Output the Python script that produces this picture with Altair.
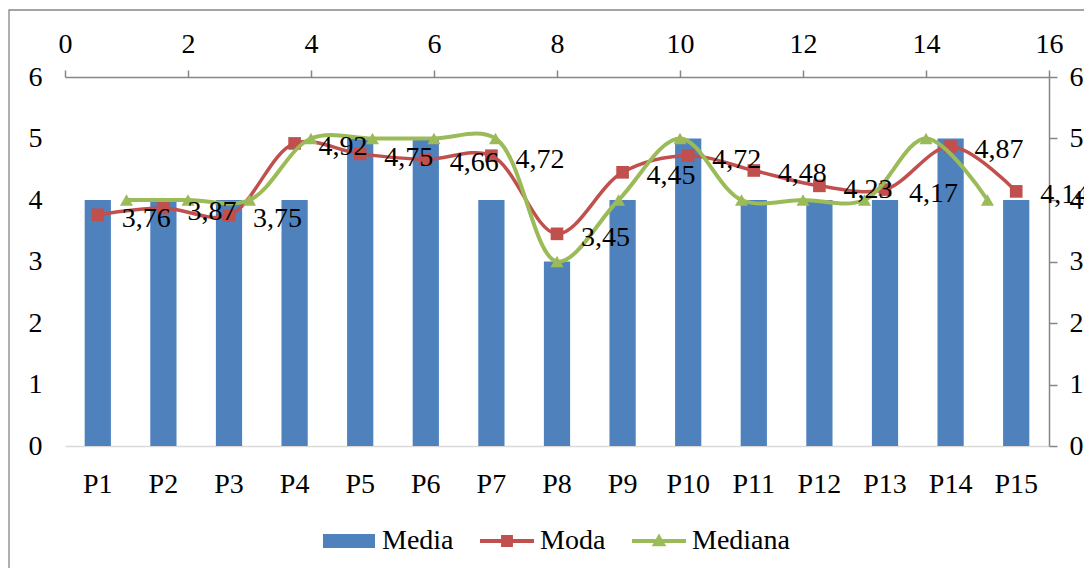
import altair as alt
import pandas as pd

# ---------------- data ----------------
categories = ["P1", "P2", "P3", "P4", "P5", "P6", "P7", "P8", "P9", "P10",
              "P11", "P12", "P13", "P14", "P15"]
media = [4, 4, 4, 4, 5, 5, 4, 3, 4, 5, 4, 4, 4, 5, 4]
moda = [3.76, 3.87, 3.75, 4.92, 4.75, 4.66, 4.72, 3.45, 4.45, 4.72,
        4.48, 4.23, 4.17, 4.87, 4.14]
mediana_x = [1, 2, 3, 4, 5, 6, 7, 8, 9, 10, 11, 12, 13, 14, 15]
mediana = [4, 4, 4, 5, 5, 5, 5, 3, 4, 5, 4, 4, 4, 5, 4]
series_names = ["Media", "Moda", "Mediana"]
series_colors = ["#4F81BD", "#C0504D", "#9BBB59"]
y_ticks = [0, 1, 2, 3, 4, 5, 6]
top_ticks = [0, 2, 4, 6, 8, 10, 12, 14, 16]

FONT = "Liberation Serif"
FS = 28
GRAY = "#868686"
BLUE, RED, GREEN = series_colors

prim = pd.DataFrame({
    "cat": categories,
    "media": media,
    "moda": moda,
    "label": [f"{v:.2f}".replace(".", ",") for v in moda],
})
sec = pd.DataFrame({"mx": mediana_x, "med": mediana})
leg = pd.DataFrame({"s": series_names})
frame = pd.DataFrame({"k": [0]})

band_scale = alt.Scale(domain=categories, paddingInner=0.6, paddingOuter=0.3)
y_scale = alt.Scale(domain=[0, 6], nice=False)

x_axis = alt.Axis(orient="bottom", title=None, labelAngle=0, ticks=False, tickSize=0,
                  domainColor="#D9D9D9", domainWidth=1.5, labelPadding=24,
                  labelFontSize=FS, labelFont=FONT, labelColor="black", grid=False,
                  labelFlush=False)
y_axis = alt.Axis(orient="left", title=None, values=y_ticks, domain=False, ticks=False,
                  tickSize=0, labelPadding=23, labelFontSize=FS, labelFont=FONT,
                  labelColor="black", grid=False, labelFlush=False)


def xb(axis=True):
    return alt.X("cat:N", sort=categories, scale=band_scale,
                 axis=x_axis if axis else None, title=None)


def yl(field, axis=True):
    return alt.Y(f"{field}:Q", scale=y_scale, axis=y_axis if axis else None, title=None)


border = alt.Chart(frame).mark_rect(fillOpacity=0, stroke=GRAY, strokeWidth=1.3).encode(
    x=alt.value(-56), x2=alt.value(1200), y=alt.value(-67), y2=alt.value(800)
)

bars = alt.Chart(prim).mark_bar(color=BLUE).encode(x=xb(), y=yl("media"))

red_line = alt.Chart(prim).mark_line(
    interpolate="catmull-rom", color=RED, strokeWidth=3.5
).encode(x=xb(), y=yl("moda"))

red_pts = alt.Chart(prim).mark_point(
    shape="square", size=160, filled=True, color=RED, opacity=1
).encode(x=xb(), y=yl("moda"))

# legend built from the series names
p_media = "M-0.963,-0.26H0.963V0.26H-0.963Z"
p_moda = "M-1,-0.074H1V0.074H-1Z M-0.22,-0.22H0.22V0.22H-0.22Z"
p_mediana = "M-1,-0.074H1V0.074H-1Z M0,-0.28L0.27,0.19L-0.27,0.19Z"
leg_def = dict(orient="none", legendX=257, legendY=437, direction="horizontal",
               columns=3, title=None, symbolSize=2916, labelFontSize=FS,
               labelFont=FONT, labelOffset=6, columnPadding=26,
               symbolStrokeWidth=0, padding=0, labelColor="black",
               symbolOpacity=1)
legend_layer = alt.Chart(leg).mark_point(filled=True, opacity=1).encode(
    color=alt.Color("s:N", scale=alt.Scale(domain=series_names, range=series_colors),
                    legend=alt.Legend(**leg_def)),
    shape=alt.Shape("s:N", scale=alt.Scale(domain=series_names,
                                           range=[p_media, p_moda, p_mediana]),
                    legend=alt.Legend(**leg_def)),
).transform_filter("false")

primary = alt.layer(border, bars, red_line, red_pts, legend_layer)

# secondary axes (top / right) for Mediana
x_top = alt.X("mx:Q", scale=alt.Scale(domain=[0, 16], nice=False),
              axis=alt.Axis(orient="top", title=None, values=top_ticks, tickSize=7,
                            tickColor=GRAY, tickWidth=1.5, domainColor=GRAY,
                            domainWidth=1.5, labelPadding=12, labelFontSize=FS,
                            labelFont=FONT, labelColor="black", grid=False,
                            labelFlush=False, labelOverlap=False))
y_right = alt.Y("med:Q", scale=y_scale,
                axis=alt.Axis(orient="right", title=None, values=y_ticks, tickSize=8,
                              tickColor=GRAY, tickWidth=1.5, domainColor=GRAY,
                              domainWidth=1.5, labelPadding=12, labelFontSize=FS,
                              labelFont=FONT, labelColor="black", grid=False,
                              labelFlush=False))

green_line = alt.Chart(sec).mark_line(
    interpolate="catmull-rom", color=GREEN, strokeWidth=4
).encode(x=x_top, y=y_right)
green_pts = alt.Chart(sec).mark_point(
    shape="triangle-up", size=170, filled=True, color=GREEN, opacity=1
).encode(x=x_top, y=y_right)

secondary = alt.layer(green_line, green_pts)

labels = alt.Chart(prim).mark_text(
    align="left", baseline="middle", dx=24, dy=4, font=FONT, fontSize=FS, color="black"
).encode(x=xb(False), y=yl("moda", False), text="label:N")

chart = alt.layer(primary, secondary, labels).resolve_scale(
    x="independent", y="independent"
).properties(
    width=984, height=369,
    padding={"left": 57, "top": 69, "right": 35, "bottom": 122},
    autosize=alt.AutoSizeParams(type="none"),
    background="white",
).configure_view(stroke=None)

chart.save("out.html", embed_options={"renderer": "svg", "actions": False})
